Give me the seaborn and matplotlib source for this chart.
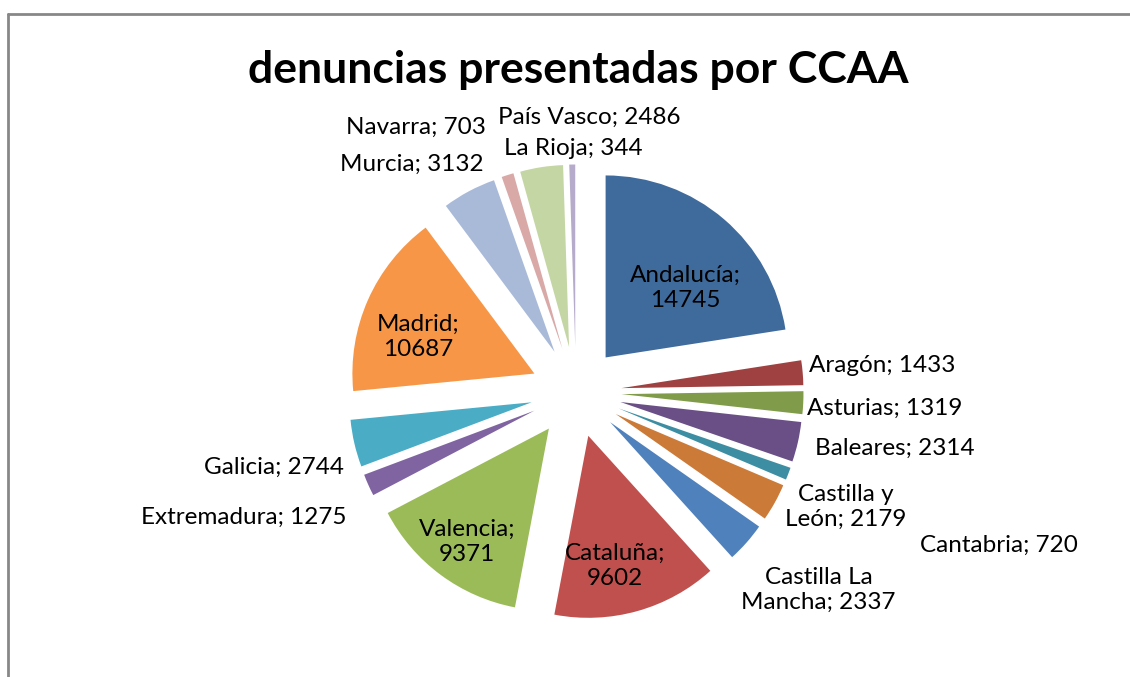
import matplotlib
matplotlib.use("Agg")
import matplotlib.pyplot as plt
import seaborn as sns
import numpy as np
from matplotlib.lines import Line2D

# --- data (clockwise from 12 o'clock) ---
regiones = ["Andalucía", "Aragón", "Asturias", "Baleares", "Cantabria",
            "Castilla y León", "Castilla La Mancha", "Cataluña", "Valencia",
            "Extremadura", "Galicia", "Madrid", "Murcia", "Navarra",
            "País Vasco", "La Rioja"]
denuncias = [14745, 1433, 1319, 2314, 720, 2179, 2337, 9602, 9371,
             1275, 2744, 10687, 3132, 703, 2486, 344]
# label text as shown in the chart (line breaks where the original wraps)
etiquetas = ["Andalucía;\n14745", "Aragón; 1433", "Asturias; 1319", "Baleares; 2314",
             "Cantabria; 720", "Castilla y\nLeón; 2179", "Castilla La\nMancha; 2337",
             "Cataluña;\n9602", "Valencia;\n9371", "Extremadura; 1275", "Galicia; 2744",
             "Madrid;\n10687", "Murcia; 3132", "Navarra; 703", "País Vasco; 2486",
             "La Rioja; 344"]

colores = sns.color_palette([
    "#3F6A9C", "#9E4140", "#809C4A", "#6A4F87", "#3D8EA3", "#CC7A37",
    "#4F81BD", "#C0504D", "#9BBB59", "#8064A2", "#4BACC6", "#F79646",
    "#A9BAD9", "#D9A9A8", "#C5D6A5", "#B7ABCB"])

# label layout: distance from centre (in radii) and angle shift (deg, clockwise)
lab_dist = [0.83, 1.69, 1.70, 1.78, 2.47, 1.61, 1.72, 0.98, 1.02,
            1.95, 1.71, 0.92, 1.54, 1.70, 1.51, 1.34]
lab_shift = [5.7, 0.0, 0.4, -2.7, -1.1, -5.9, -2.2, 3.1, -0.5,
             3.4, -1.0, -4.7, -7.7, -13.6, 11.4, 0.2]

sns.set_style("white")
plt.rcParams['font.family'] = ['Lato', 'DejaVu Sans']

W, H = 1130, 677
fig = plt.figure(figsize=(W / 100, H / 100), dpi=100)
fig.patch.set_facecolor("white")
ax = fig.add_axes([0, 0, 1, 1])

cx, cy, R = 576, H - 392, 182
# matplotlib's explode is in data units, so scale by the radius
wedges, _ = ax.pie(denuncias, colors=colores, startangle=90, counterclock=False,
                   explode=[0.25 * R] * len(denuncias), radius=R, center=(cx, cy),
                   wedgeprops=dict(linewidth=0))

for w, txt, d, s in zip(wedges, etiquetas, lab_dist, lab_shift):
    mid = np.deg2rad((w.theta1 + w.theta2) / 2 - s)
    x = cx + d * R * np.cos(mid)
    y = cy + d * R * np.sin(mid)
    ax.text(x, y, txt, ha="center", va="center", fontsize=17.5,
            color="black", linespacing=1.25)

ax.set_xlim(0, W)
ax.set_ylim(0, H)
ax.set_aspect("equal")
ax.axis("off")

fig.text(578 / W, 1 - 70 / H, "denuncias presentadas por CCAA", ha="center",
         va="center", fontsize=32, fontweight="bold", color="black")

# chart frame (top and left edges visible)
fig.add_artist(Line2D([8 / W, 1], [1 - 14 / H, 1 - 14 / H], color="#878787", lw=2))
fig.add_artist(Line2D([8 / W, 8 / W], [0, 1 - 14 / H], color="#878787", lw=2))

fig.savefig("out.png", dpi=100, facecolor="white")
